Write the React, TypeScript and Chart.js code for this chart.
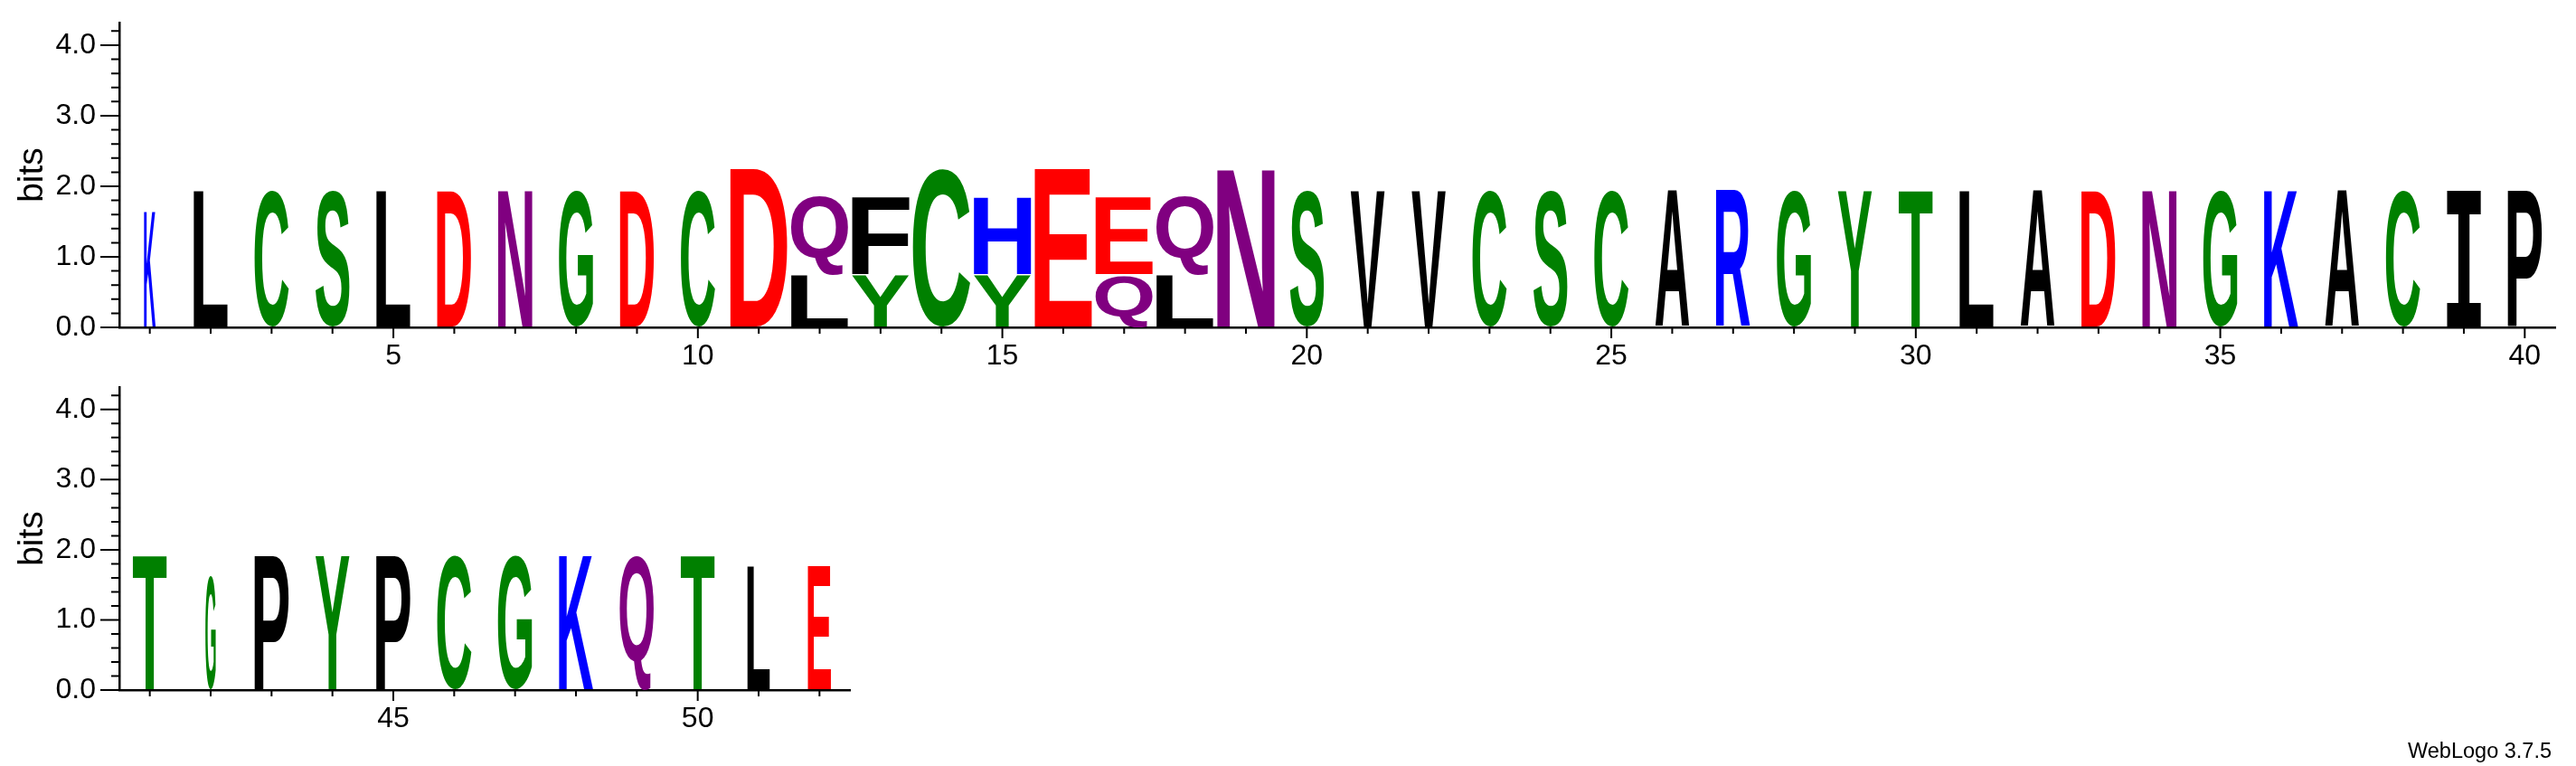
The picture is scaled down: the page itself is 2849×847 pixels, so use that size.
import { useEffect, useRef } from "react"
import { Chart, registerables } from "chart.js"

Chart.register(...registerables)

// One stack per sequence position (position = index + 1), letters listed bottom to top
const stackLetters = [
  "K", "L", "C", "S", "L", "D", "N", "G", "D", "C",
  "D", "LQ", "YF", "C", "YH", "E", "QE", "LQ", "N", "S",
  "V", "V", "C", "S", "C", "A", "R", "G", "Y", "T",
  "L", "A", "D", "N", "G", "K", "A", "C", "I", "P",
  "T", "G", "P", "Y", "P", "C", "G", "K", "Q", "T",
  "L", "E",
]

// Height of each letter in bits, same order as stackLetters
const stackBits = [
  [1.65], [1.94], [1.94], [1.94], [1.94], [1.94], [1.94], [1.94], [1.94], [1.94],
  [2.24], [0.74, 1.12], [0.74, 1.1], [2.24], [0.74, 1.1], [2.24], [0.74, 1.1], [0.74, 1.12], [2.24], [1.94],
  [1.94], [1.94], [1.94], [1.94], [1.94], [1.94], [1.94], [1.94], [1.94], [1.94],
  [1.94], [1.94], [1.94], [1.94], [1.94], [1.94], [1.94], [1.94], [1.94], [1.94],
  [1.92], [1.62], [1.92], [1.92], [1.92], [1.92], [1.92], [1.92], [1.92], [1.92],
  [1.77], [1.77],
]

// Visible stack width (fraction of a position) - columns with gaps are narrower
const stackWidths = [
  0.19, 0.56, 0.56, 0.56, 0.56, 0.56, 0.56, 0.56, 0.56, 0.56,
  0.94, 0.94, 0.94, 0.94, 0.94, 0.94, 0.94, 0.94, 0.94, 0.56,
  0.56, 0.56, 0.56, 0.56, 0.56, 0.56, 0.56, 0.56, 0.56, 0.56,
  0.56, 0.56, 0.56, 0.56, 0.56, 0.56, 0.56, 0.56, 0.56, 0.56,
  0.56, 0.17, 0.56, 0.56, 0.56, 0.56, 0.56, 0.56, 0.56, 0.56,
  0.37, 0.38,
]

const panelFirst = [1, 41]
const panelLast = [40, 52]

const bitTicks = [
  0, 0.2, 0.4, 0.6, 0.8, 1, 1.2, 1.4, 1.6, 1.8, 2,
  2.2, 2.4, 2.6, 2.8, 3, 3.2, 3.4, 3.6, 3.8, 4, 4.2,
]
const maxBits = 4.32
const labelEvery = 5
const fineprint = "WebLogo 3.7.5"

const letterColors: Record<string, string> = {
  G: "#008000", S: "#008000", T: "#008000", Y: "#008000", C: "#008000",
  N: "#800080", Q: "#800080",
  K: "#0000ff", R: "#0000ff", H: "#0000ff",
  D: "#ff0000", E: "#ff0000",
  A: "#000000", V: "#000000", L: "#000000", I: "#000000",
  P: "#000000", W: "#000000", F: "#000000", M: "#000000",
}

const FONT = "'Liberation Sans', Arial, Helvetica, sans-serif"
const TICK_SIZE = 32

// canvas layout for each panel
const panelBoxes = [
  { top: 0, height: 410, padTop: 25, axisHeight: 48, padRight: 23 },
  { top: 400, height: 447, padTop: 28, axisHeight: 84, padRight: 1909 },
]

function drawGlyph(
  ctx: CanvasRenderingContext2D,
  ch: string,
  x: number,
  y: number,
  w: number,
  h: number,
  color: string
) {
  const family = ch === "I" ? "'DejaVu Sans Mono', monospace" : FONT
  ctx.save()
  ctx.font = `bold 200px ${family}`
  ctx.textAlign = "left"
  ctx.textBaseline = "alphabetic"
  const m = ctx.measureText(ch)
  const gw = m.actualBoundingBoxLeft + m.actualBoundingBoxRight
  const gh = m.actualBoundingBoxAscent + m.actualBoundingBoxDescent
  ctx.translate(x, y)
  ctx.scale(w / gw, h / gh)
  ctx.fillStyle = color
  ctx.fillText(ch, m.actualBoundingBoxLeft, m.actualBoundingBoxAscent)
  ctx.restore()
}

const logoPlugin = {
  id: "logo",
  afterDatasetsDraw(chart: any, _args: any, opts: any) {
    const { ctx } = chart
    const xs = chart.scales.x
    const ys = chart.scales.y

    for (let p = opts.first; p <= opts.last; p++) {
      const i = p - 1
      const half = stackWidths[i] / 2
      const left = xs.getPixelForValue(p - half)
      const right = xs.getPixelForValue(p + half)
      let base = 0
      stackLetters[i].split("").forEach((ch, k) => {
        const top = base + stackBits[i][k]
        const yb = ys.getPixelForValue(base) - 1
        const yt = ys.getPixelForValue(top)
        drawGlyph(ctx, ch, left, yt, right - left, yb - yt, letterColors[ch])
        base = top
      })
    }

    // visible tick marks: long at labelled values, short otherwise
    ctx.save()
    ctx.strokeStyle = "#000"
    ctx.lineWidth = 2
    ctx.beginPath()
    ys.ticks.forEach((t: any) => {
      const py = ys.getPixelForValue(t.value)
      const len = Number.isInteger(t.value) ? 21 : 9
      ctx.moveTo(ys.right - len, py)
      ctx.lineTo(ys.right, py)
    })
    xs.ticks.forEach((t: any) => {
      const px = xs.getPixelForValue(t.value)
      const len = t.value % labelEvery === 0 ? 12 : 7
      ctx.moveTo(px, xs.top)
      ctx.lineTo(px, xs.top + len)
    })
    ctx.stroke()
    ctx.restore()
  },
  afterDraw(chart: any, _args: any, opts: any) {
    if (!opts.fineprint) return
    const { ctx } = chart
    ctx.save()
    ctx.font = `23.5px ${FONT}`
    ctx.fillStyle = "#000"
    ctx.textAlign = "right"
    ctx.textBaseline = "alphabetic"
    ctx.fillText(opts.fineprint, 2822, 438)
    ctx.restore()
  },
}

// invisible chart.js tick marks only reserve room between axis and labels
const hiddenTicks = (len: number) => ({
  display: true,
  drawOnChartArea: false,
  drawTicks: true,
  tickLength: len,
  tickColor: "rgba(0,0,0,0)",
})

function makeChart(canvas: HTMLCanvasElement, panel: number) {
  const box = panelBoxes[panel]
  const first = panelFirst[panel]
  const last = panelLast[panel]
  const positions = stackLetters.map((_, i) => i + 1).filter((p) => p >= first && p <= last)

  return new Chart(canvas, {
    type: "scatter",
    data: { datasets: [] },
    plugins: [logoPlugin],
    options: {
      responsive: false,
      animation: false,
      layout: { padding: { top: box.padTop, right: box.padRight, left: 0, bottom: 0 } },
      plugins: {
        legend: { display: false },
        tooltip: { enabled: false },
        // @ts-ignore custom plugin options
        logo: { first, last, fineprint: panel === 1 ? fineprint : "" },
      },
      scales: {
        x: {
          type: "linear",
          min: first - 0.5,
          max: last + 0.5,
          afterBuildTicks: (s: any) => {
            s.ticks = positions.map((value) => ({ value }))
          },
          afterFit: (s: any) => {
            s.height = box.axisHeight
          },
          grid: hiddenTicks(13),
          border: { display: true, color: "#000", width: 2.5 },
          ticks: {
            autoSkip: false,
            maxRotation: 0,
            padding: 0,
            color: "#000",
            font: { family: FONT, size: TICK_SIZE },
            callback: (v: any) => (v % labelEvery === 0 ? String(v) : ""),
          },
        },
        y: {
          type: "linear",
          min: 0,
          max: maxBits,
          afterBuildTicks: (s: any) => {
            s.ticks = bitTicks.map((value) => ({ value }))
          },
          afterFit: (s: any) => {
            s.width = 132
          },
          grid: hiddenTicks(26),
          border: { display: true, color: "#000", width: 2.5 },
          ticks: {
            autoSkip: false,
            padding: 0,
            color: "#000",
            font: { family: FONT, size: TICK_SIZE },
            callback: (v: any) => (Number.isInteger(v) ? Number(v).toFixed(1) : ""),
          },
          title: {
            display: true,
            text: "bits",
            color: "#000",
            font: { family: FONT, size: 39 },
            padding: { top: 13, bottom: 0 },
          },
        },
      },
    },
  })
}

export default function App() {
  const topRef = useRef<HTMLCanvasElement>(null)
  const bottomRef = useRef<HTMLCanvasElement>(null)

  useEffect(() => {
    if (!topRef.current || !bottomRef.current) return
    const charts = [makeChart(topRef.current, 0), makeChart(bottomRef.current, 1)]
    return () => {
      charts.forEach((c) => c.destroy())
    }
  }, [])

  return (
    <div
      style={{
        position: "fixed",
        left: 0,
        top: 0,
        width: 2849,
        height: 847,
        background: "#fff",
        overflow: "hidden",
      }}
    >
      {[topRef, bottomRef].map((ref, i) => (
        <canvas
          key={i}
          ref={ref}
          width={2849}
          height={panelBoxes[i].height}
          style={{
            position: "absolute",
            left: 0,
            top: panelBoxes[i].top,
            width: 2849,
            height: panelBoxes[i].height,
          }}
        />
      ))}
    </div>
  )
}
